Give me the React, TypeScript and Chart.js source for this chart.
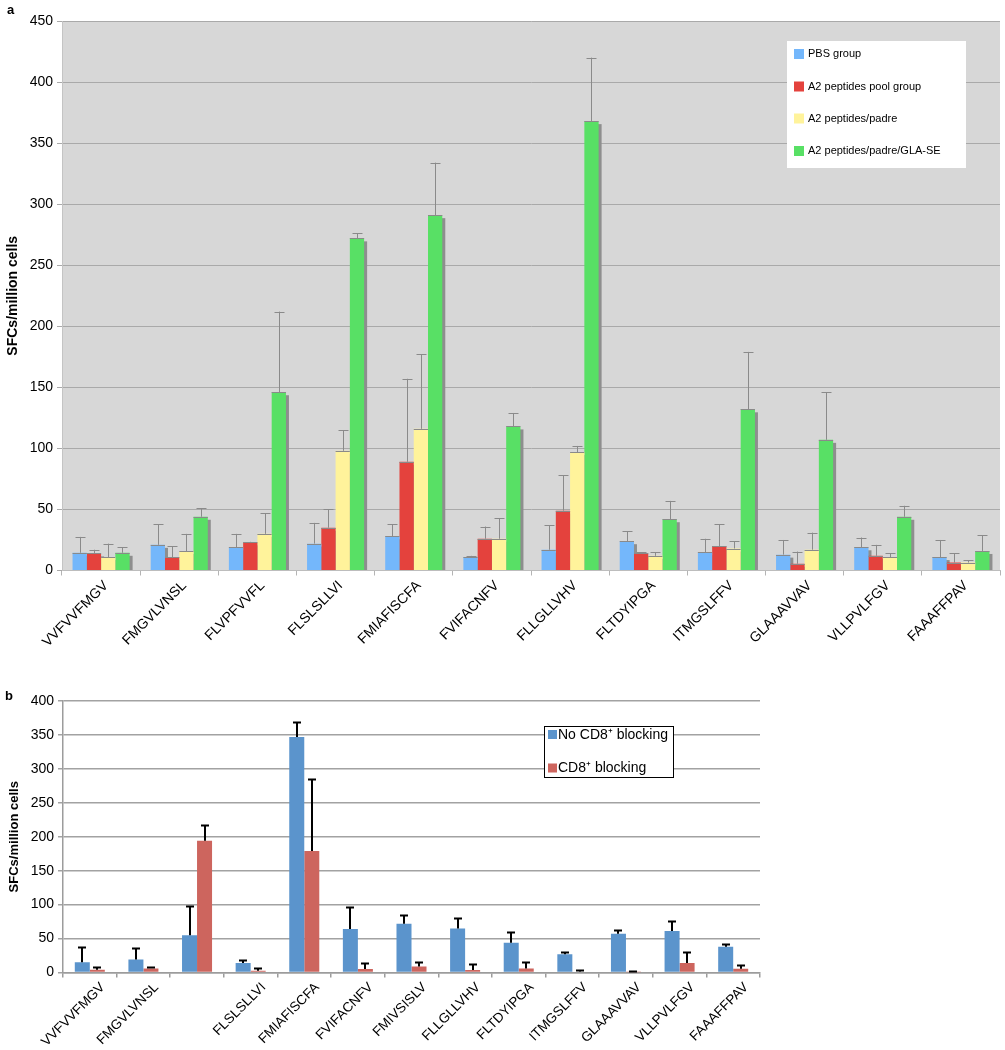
import React, { useEffect, useRef } from 'react';
import { Chart, registerables } from 'chart.js';

Chart.register(...registerables);

const FONT = "'Liberation Sans', Arial, sans-serif";

// ---------- Panel a ----------
const topCategories = [
  'VVFVVFMGV', 'FMGVLVNSL', 'FLVPFVVFL', 'FLSLSLLVI', 'FMIAFISCFA', 'FVIFACNFV',
  'FLLGLLVHV', 'FLTDYIPGA', 'ITMGSLFFV', 'GLAAAVVAV', 'VLLPVLFGV', 'FAAAFFPAV',
];
const topSeriesLabels = ['PBS group', 'A2 peptides pool group', 'A2 peptides/padre', 'A2 peptides/padre/GLA-SE'];
const pbsGroup = [14.5, 21, 19, 22, 28, 11, 17, 24, 15, 13, 19, 11];
const pbsErr = [13, 17, 11, 17, 10, 1, 20, 8, 11, 12, 8, 14];
const poolGroup = [14, 11, 23, 35, 89, 26, 49, 14, 20, 5.5, 12, 6.5];
const poolErr = [3, 9, 0.5, 15, 68, 10, 29, 1, 18, 10, 9, 7.5];
const padreGroup = [11, 16, 30, 98, 116, 26, 97, 12, 18, 17, 11, 6.5];
const padreErr = [11, 14, 17, 17, 61, 17, 5, 3, 6, 14, 3, 2];
const glaGroup = [14.5, 44, 146, 272, 291, 118, 368, 42, 132, 107, 44, 16];
const glaErr = [4.5, 7, 66, 4, 43, 11, 52, 15, 47, 39, 9, 13];
const topColors = ['#74b7fb', '#e4423d', '#fff39b', '#58e065'];

// ---------- Panel b ----------
const bottomCategories = [
  'VVFVVFMGV', 'FMGVLVNSL', '', 'FLSLSLLVI', 'FMIAFISCFA', 'FVIFACNFV', 'FMIVSISLV',
  'FLLGLLVHV', 'FLTDYIPGA', 'ITMGSLFFV', 'GLAAAVVAV', 'VLLPVLFGV', 'FAAAFFPAV',
];
const bottomSeriesLabels = ['No CD8\u207A blocking', 'CD8\u207A blocking'];
const noBlocking = [15, 19, 55, 14, 347, 64, 72, 65, 44, 27, 57, 61, 38];
const noBlockingErr = [23, 17, 43, 5, 22, 33, 13, 15, 16, 3, 6, 15, 4.5];
const blocking = [4, 6, 194, 2.5, 179, 5, 9, 3.5, 6, 1, 0.5, 14, 5.5];
const blockingErr = [4.5, 1.5, 23, 4, 106, 9, 6, 8.5, 10, 3, 1, 16, 5.5];
const bottomColors = ['#5b94cc', '#cd655e'];

type ErrCfg = { errs: number[][]; color: string; lw: number; cap: number; baseCap: boolean };

function errorBarPlugin(id: string, cfg: ErrCfg) {
  return {
    id,
    afterDatasetsDraw(chart: any) {
      const ctx = chart.ctx;
      const yScale = chart.scales.y;
      ctx.save();
      ctx.strokeStyle = cfg.color;
      ctx.lineWidth = cfg.lw;
      chart.data.datasets.forEach((ds: any, i: number) => {
        const meta = chart.getDatasetMeta(i);
        meta.data.forEach((bar: any, j: number) => {
          const v = ds.data[j];
          const e = cfg.errs[i][j];
          const x = Math.round(bar.x) + (cfg.lw % 2 ? 0.5 : 0);
          const y0 = yScale.getPixelForValue(v);
          const y1 = yScale.getPixelForValue(v + e);
          ctx.beginPath();
          ctx.moveTo(x, y0);
          ctx.lineTo(x, y1);
          ctx.moveTo(x - cfg.cap, Math.round(y1) + 0.5);
          ctx.lineTo(x + cfg.cap, Math.round(y1) + 0.5);
          if (cfg.baseCap) {
            ctx.moveTo(bar.x - bar.width / 2, Math.round(y0) + 0.5);
            ctx.lineTo(bar.x + bar.width / 2, Math.round(y0) + 0.5);
          }
          ctx.stroke();
        });
      });
      ctx.restore();
    },
  };
}

const topDecor = {
  id: 'topDecor',
  beforeDraw(chart: any) {
    const { ctx, chartArea } = chart;
    ctx.save();
    ctx.fillStyle = '#d7d7d7';
    ctx.fillRect(chartArea.left, chartArea.top, chartArea.right - chartArea.left, chartArea.bottom - chartArea.top);
    ctx.restore();
  },
  beforeDatasetsDraw(chart: any) {
    const ctx = chart.ctx;
    ctx.save();
    ctx.fillStyle = '#8e8e8e';
    chart.data.datasets.forEach((_ds: any, i: number) => {
      const meta = chart.getDatasetMeta(i);
      meta.data.forEach((bar: any) => {
        const h = bar.base - bar.y - 3;
        if (h > 0) ctx.fillRect(bar.x - bar.width / 2 + 3, bar.y + 3, bar.width, h);
      });
    });
    ctx.restore();
  },
  afterDraw(chart: any) {
    const ctx = chart.ctx;
    ctx.save();
    ctx.fillStyle = '#000';
    ctx.font = `bold 13px ${FONT}`;
    ctx.textBaseline = 'middle';
    ctx.textAlign = 'left';
    ctx.fillText('a', 7, 10);
    // legend
    ctx.fillStyle = '#ffffff';
    ctx.fillRect(787, 41, 179, 127);
    const rows = [54, 86.5, 118.5, 151];
    ctx.font = `11px ${FONT}`;
    chart.data.datasets.forEach((ds: any, i: number) => {
      ctx.fillStyle = ds.backgroundColor;
      ctx.fillRect(794, rows[i] - 5, 10, 10);
      ctx.fillStyle = '#000';
      ctx.fillText(ds.label, 808, rows[i]);
    });
    ctx.restore();
  },
};

const bottomDecor = {
  id: 'bottomDecor',
  afterDraw(chart: any) {
    const ctx = chart.ctx;
    ctx.save();
    ctx.fillStyle = '#000';
    ctx.font = `bold 13px ${FONT}`;
    ctx.textBaseline = 'middle';
    ctx.textAlign = 'left';
    ctx.fillText('b', 5, 36);
    // legend box (canvas top is at page y 660)
    ctx.fillStyle = '#ffffff';
    ctx.fillRect(544, 66, 130, 51);
    ctx.strokeStyle = '#000';
    ctx.lineWidth = 1;
    ctx.strokeRect(544.5, 66.5, 129, 51);
    const rows = [75, 108.5];
    ctx.font = `14px ${FONT}`;
    chart.data.datasets.forEach((ds: any, i: number) => {
      ctx.fillStyle = ds.backgroundColor;
      ctx.fillRect(548, rows[i] - 5, 9, 9);
      ctx.fillStyle = '#000';
      ctx.fillText(ds.label, 558, rows[i]);
    });
    ctx.restore();
  },
};

function TopChart() {
  const ref = useRef<HTMLCanvasElement>(null);
  useEffect(() => {
    if (!ref.current) return;
    const series = [pbsGroup, poolGroup, padreGroup, glaGroup];
    const chart = new Chart(ref.current, {
      type: 'bar',
      data: {
        labels: topCategories,
        datasets: series.map((d, i) => ({
          label: topSeriesLabels[i],
          data: d,
          backgroundColor: topColors[i],
          borderWidth: 0,
          categoryPercentage: 0.73,
          barPercentage: 1,
        })),
      },
      options: {
        animation: false,
        responsive: false,
        maintainAspectRatio: false,
        layout: { padding: { top: 21, right: 5, left: 0, bottom: 0 } },
        plugins: { legend: { display: false }, tooltip: { enabled: false } },
        scales: {
          x: {
            grid: { display: true, drawOnChartArea: false, tickLength: 5, color: '#b4b4b4' },
            border: { color: '#bdbdbd' },
            ticks: {
              font: { family: FONT, size: 14 },
              color: '#000',
              minRotation: 45,
              maxRotation: 45,
              autoSkip: false,
              padding: 2,
              labelOffset: 5,
            },
            afterFit: (s: any) => { s.height = 89.5; },
          },
          y: {
            min: 0,
            max: 450,
            ticks: { stepSize: 50, font: { family: FONT, size: 14 }, color: '#000', padding: 4 },
            grid: { color: '#a9a9a9', tickLength: 5, tickColor: '#a9a9a9' },
            border: { color: '#c4c4c4' },
            title: {
              display: true,
              text: 'SFCs/million cells',
              font: { family: FONT, size: 14, weight: 'bold' },
              color: '#000',
              padding: { top: 5, bottom: 0 },
            },
            afterFit: (s: any) => { s.width = 62; },
          },
        },
      },
      plugins: [
        topDecor,
        errorBarPlugin('topErr', {
          errs: [pbsErr, poolErr, padreErr, glaErr],
          color: '#8a8a8a',
          lw: 1,
          cap: 5,
          baseCap: true,
        }),
      ],
    } as any);
    return () => chart.destroy();
  }, []);
  return (
    <canvas ref={ref} width={1005} height={660} style={{ position: 'absolute', left: 0, top: 0, width: 1005, height: 660 }} />
  );
}

function BottomChart() {
  const ref = useRef<HTMLCanvasElement>(null);
  useEffect(() => {
    if (!ref.current) return;
    const series = [noBlocking, blocking];
    const chart = new Chart(ref.current, {
      type: 'bar',
      data: {
        labels: bottomCategories,
        datasets: series.map((d, i) => ({
          label: bottomSeriesLabels[i],
          data: d,
          backgroundColor: bottomColors[i],
          borderWidth: 0,
          categoryPercentage: 0.56,
          barPercentage: 1,
        })),
      },
      options: {
        animation: false,
        responsive: false,
        maintainAspectRatio: false,
        layout: { padding: { top: 41, right: 245, left: 0, bottom: 0 } },
        plugins: { legend: { display: false }, tooltip: { enabled: false } },
        scales: {
          x: {
            grid: { display: true, drawOnChartArea: false, tickLength: 5, color: '#9c9c9c', lineWidth: 1.5 },
            border: { color: '#9c9c9c', width: 1.5 },
            ticks: {
              font: { family: FONT, size: 13.5 },
              color: '#000',
              minRotation: 45,
              maxRotation: 45,
              autoSkip: false,
              padding: 2,
              labelOffset: 13,
            },
            afterFit: (s: any) => { s.height = 77.5; },
          },
          y: {
            min: 0,
            max: 400,
            ticks: { stepSize: 50, font: { family: FONT, size: 14 }, color: '#000', padding: 4 },
            grid: { color: '#a2a2a2', lineWidth: 1.5, tickLength: 5, tickColor: '#a2a2a2' },
            border: { color: '#9c9c9c', width: 1.5 },
            title: {
              display: true,
              text: 'SFCs/million cells',
              font: { family: FONT, size: 13, weight: 'bold' },
              color: '#000',
              padding: { top: 7, bottom: 0 },
            },
            afterFit: (s: any) => { s.width = 63; },
          },
        },
      },
      plugins: [
        bottomDecor,
        errorBarPlugin('bottomErr', {
          errs: [noBlockingErr, blockingErr],
          color: '#000',
          lw: 2,
          cap: 4,
          baseCap: false,
        }),
      ],
    } as any);
    return () => chart.destroy();
  }, []);
  return (
    <canvas ref={ref} width={1005} height={390} style={{ position: 'absolute', left: 0, top: 660, width: 1005, height: 390 }} />
  );
}

export default function App() {
  return (
    <div style={{ position: 'absolute', left: 0, top: 0, width: 1005, height: 1050, background: '#fff', overflow: 'hidden' }}>
      <TopChart />
      <BottomChart />
    </div>
  );
}
